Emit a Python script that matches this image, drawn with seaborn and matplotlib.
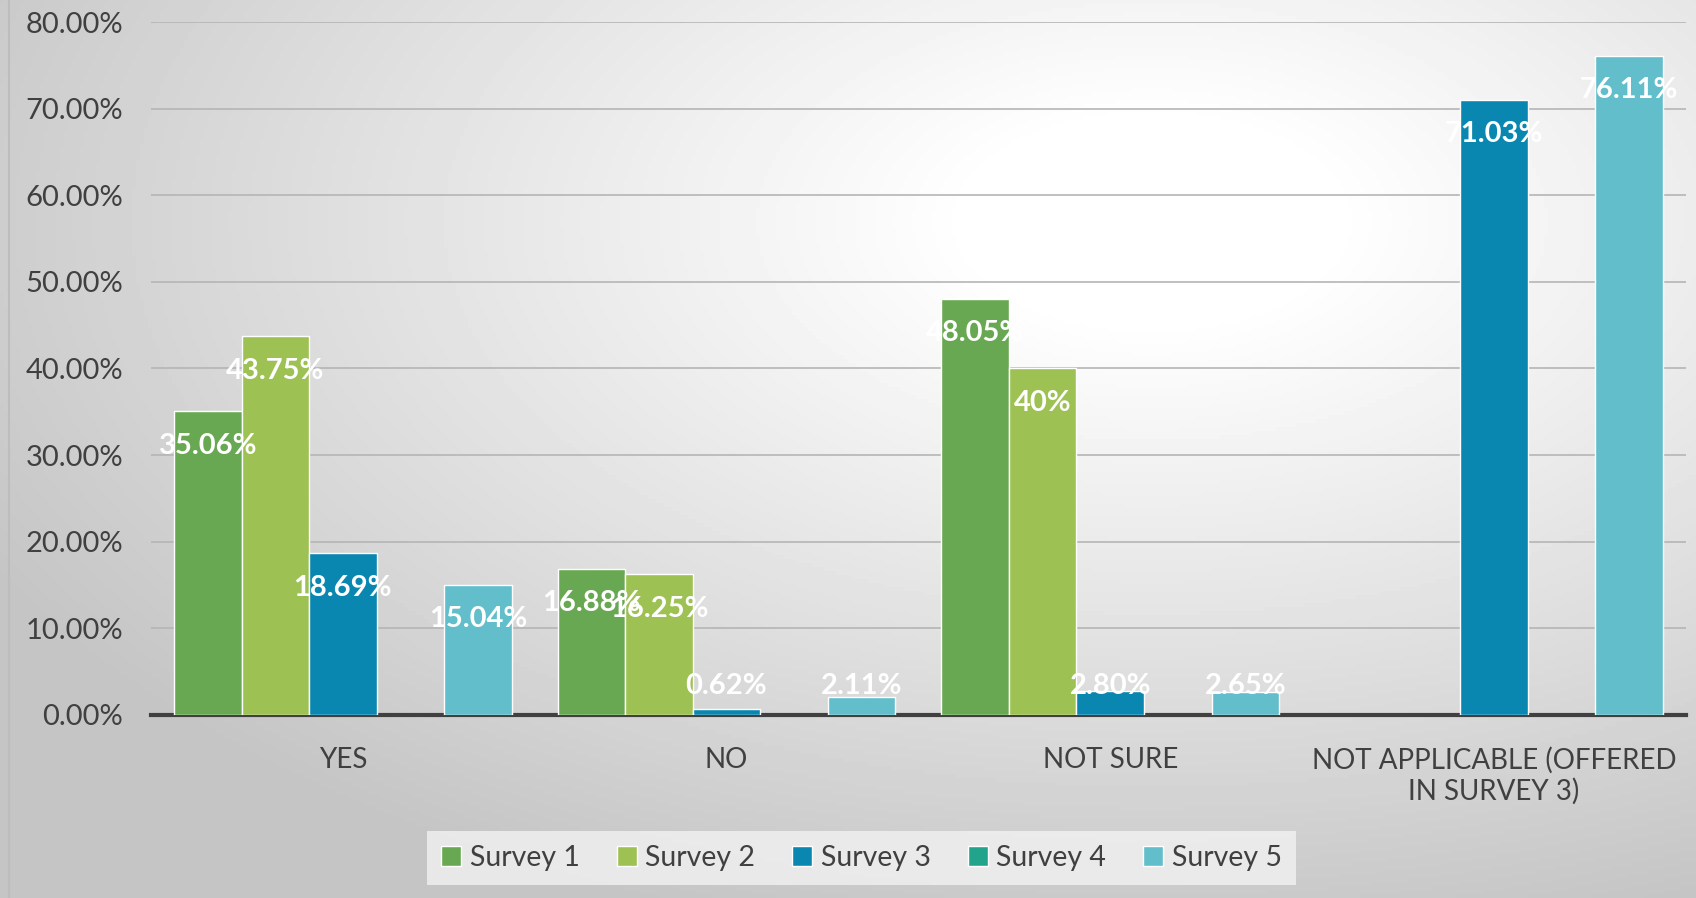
import numpy as np
import pandas as pd
import matplotlib
matplotlib.use('Agg')
import matplotlib.pyplot as plt
import matplotlib.patches as mpatches
import seaborn as sns

# Datos
categorias = ['YES', 'NO', 'NOT SURE', 'NOT APPLICABLE (OFFERED\nIN SURVEY 3)']
encuestas = ['Survey 1', 'Survey 2', 'Survey 3', 'Survey 4', 'Survey 5']
survey_1 = [35.06, 16.88, 48.05, np.nan]
survey_2 = [43.75, 16.25, 40.00, np.nan]
survey_3 = [18.69, 0.62, 2.80, 71.03]
survey_4 = [np.nan, np.nan, np.nan, np.nan]
survey_5 = [15.04, 2.11, 2.65, 76.11]
colores = ['#69A853', '#9DC152', '#0A87B0', '#22A38B', '#62BECB']
y_ticks = [0, 10, 20, 30, 40, 50, 60, 70, 80]

filas = []
for nombre, vals in zip(encuestas, [survey_1, survey_2, survey_3, survey_4, survey_5]):
    for cat, v in zip(categorias, vals):
        filas.append({'categoria': cat, 'encuesta': nombre, 'valor': v})
df = pd.DataFrame(filas)

sns.set_theme(style='white')
plt.rcParams['font.family'] = ['Lato', 'DejaVu Sans']

W, H = 1696, 898
fig = plt.figure(figsize=(W / 100, H / 100), dpi=100)

# Fondo con degradado (blanco arriba a la derecha, gris en los bordes)
bg = fig.add_axes([0, 0, 1, 1], zorder=-10)
px, py = np.meshgrid(np.arange(0, W, 4), np.arange(0, H, 4))
d = np.sqrt((px - 1150) ** 2 + (1.8 * (py - 220)) ** 2)
grad = 1.0 - 0.23 * np.clip((d - 180) / 1150, 0, 1)
bg.imshow(grad, cmap='gray', vmin=0, vmax=1, aspect='auto', extent=[0, 1, 0, 1], origin='upper')
bg.axvline(9 / W, color='#bdbdbd', linewidth=1.5)
bg.set_xlim(0, 1)
bg.set_ylim(0, 1)
bg.axis('off')

ax = fig.add_axes([0.089, 0.204, 0.905, 0.7715])
ax.patch.set_alpha(0)

sns.barplot(data=df, x='categoria', y='valor', hue='encuesta', order=categorias,
            hue_order=encuestas, palette=colores, saturation=1, width=0.88, gap=0,
            edgecolor='white', linewidth=1, legend=False, ax=ax, zorder=3)

def etiqueta(v):
    return '40%' if v == 40 else f'{v:.2f}%'

# etiquetas dentro del extremo, sin bajar de la base
for c in ax.containers:
    for rect, v in zip(c.patches, c.datavalues):
        if np.isnan(v):
            continue
        y = max(v - 4.0, 3.3)
        ax.text(rect.get_x() + rect.get_width() / 2, y, etiqueta(v), ha='center', va='center',
                color='white', fontsize=21, fontweight='bold', zorder=5)

ax.set_ylim(0, 80)
ax.set_yticks(y_ticks)
ax.set_yticklabels([f'{t:.2f}%' for t in y_ticks], fontsize=21, color='#404040')
ax.tick_params(axis='x', labelsize=20, labelcolor='#404040', pad=23, length=0)
ax.tick_params(axis='y', length=0, pad=20)
ax.set_xlabel('')
ax.set_ylabel('')
ax.yaxis.grid(True, color='#b5b5b5', linewidth=1.2, zorder=0)
ax.set_axisbelow(True)
for s in ['top', 'right', 'left']:
    ax.spines[s].set_visible(False)
ax.spines['bottom'].set_color('#404040')
ax.spines['bottom'].set_linewidth(3)

handles = [mpatches.Patch(facecolor=col, edgecolor='white', label=n) for col, n in zip(colores, encuestas)]
leg = fig.legend(handles=handles, loc='center', bbox_to_anchor=(0.508, 0.0445), ncol=5,
                 fontsize=20.5, frameon=True, fancybox=False, handlelength=0.7, handleheight=0.7,
                 handletextpad=0.3, columnspacing=1.3, borderpad=0.5)
leg.get_frame().set_facecolor('#f2f2f2')
leg.get_frame().set_edgecolor('none')
for t in leg.get_texts():
    t.set_color('#404040')

fig.savefig('out.png', dpi=100)
